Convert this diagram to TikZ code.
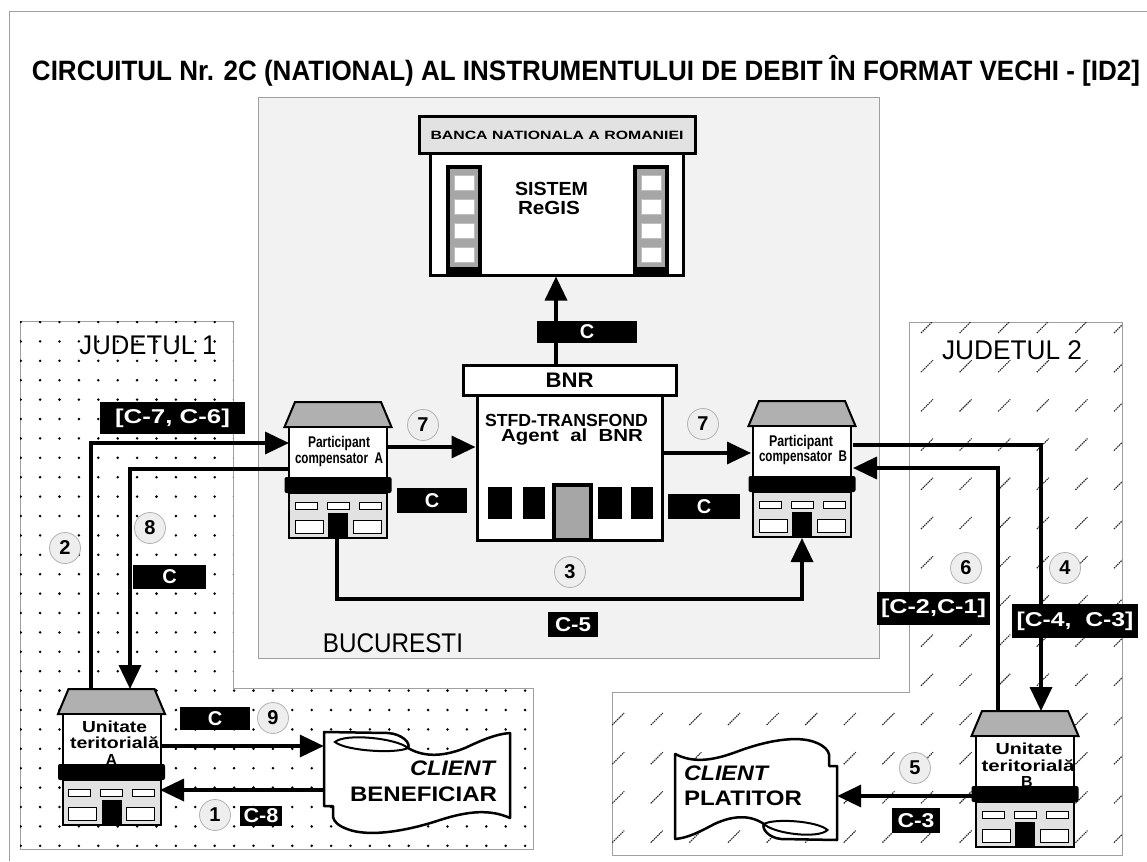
\documentclass[tikz,border=0pt]{standalone}
\usepackage{fontspec}
\setmainfont{Liberation Sans}
\usepackage{graphicx}
\usetikzlibrary{arrows.meta,calc}
\newcommand\fitw[2]{\resizebox{#1pt}{\height}{#2}}
\definecolor{roofgray}{HTML}{B0B0B0}
\definecolor{lowgray}{HTML}{E2E2E2}
\definecolor{regiongray}{HTML}{F2F2F2}
\definecolor{framegray}{HTML}{A0A0A0}
\definecolor{numfill}{HTML}{EEEEEE}
\newcommand\hfont{\bfseries\fontsize{15.5}{15.5}\selectfont}
\newcommand\ufont{\bfseries\fontsize{16}{16}\selectfont}
\newcommand\cfont{\bfseries\fontsize{21}{21}\selectfont}
\newcommand\rfont{\fontsize{27}{27}\selectfont}
\newcommand\drawhouse[4]{%
\begin{scope}[shift={(#2,#3)}]
\node[minimum width=98pt,minimum height=136pt,inner sep=0pt,anchor=north] (#1) at (0,0) {};
\draw[line width=2pt,fill=roofgray,line join=miter] (-43,0) -- (43,0) -- (53.5,25) -- (-53.5,25) -- cycle;
\draw[line width=2pt,fill=white] (-49,25) rectangle (49,76);
\draw[line width=2pt,fill=lowgray] (-49,91) rectangle (49,136);
#4
\fill[rounded corners=2pt] (-53.5,75) rectangle (53.5,91);
\foreach \a in {-43,-11,21} \draw[line width=0.9pt,fill=white] (\a,100) rectangle ++(22,7);
\draw[line width=0.9pt,fill=white] (-43,118) rectangle (-15,131);
\draw[line width=0.9pt,fill=white] (15,118) rectangle (43,131);
\fill (-10,111) rectangle (10,136);
\end{scope}}
\newcommand\scrollpath{(324,732) -- (388,733) .. controls (402,734) and (411,743) .. (408,748) .. controls (425,758) and (445,756) .. (465,748) .. controls (482,740) and (496,734) .. (510,733) -- (510,818) .. controls (490,809) and (468,811) .. (440,820) .. controls (410,830) and (370,838) .. (347,829) .. controls (339,826) and (334,822) .. (333,817) -- (333,806) -- (324,806) -- cycle}
\newcommand\looppath{(335,742) .. controls (345,733) and (396,738) .. (408,748) .. controls (396,754) and (346,751) .. (335,742) -- cycle}
\tikzset{
 conn/.style={line width=3.5pt, line join=miter},
 arr/.style={conn, -{Triangle[length=24pt,width=22pt]}},
 lbl/.style={fill=black, text=white, inner sep=0pt, font=\bfseries\fontsize{20}{20}\selectfont},
 num/.style={circle, draw=gray!60, fill=numfill, line width=0.8pt, minimum size=31pt, inner sep=0pt, font=\bfseries\fontsize{20}{20}\selectfont},
 region/.style={draw=framegray, line width=0.8pt},
 hatch/.style={line width=1.1pt, dash pattern=on 1.5pt off 0.8pt, black!85},
 bld/.style={draw, line width=3pt, inner sep=0pt},
}
\begin{document}
\begin{tikzpicture}[x=1pt,y=-1pt]
\useasboundingbox (0,0) rectangle (1147,861);
% frame
\draw[framegray, line width=1pt] (9,861) -- (9,12) -- (1147,12);
% title
\node (title) at (586,71) {\fitw{1108}{\fontsize{28}{28}\selectfont\bfseries CIRCUITUL Nr. 2C (NATIONAL) AL INSTRUMENTULUI DE DEBIT ÎN FORMAT VECHI - [ID2]}};
% Bucuresti region
\draw[region, fill=regiongray] (258,97) rectangle (879,658);
\node (buc) at (393,643) {\fitw{140}{\rfont BUCURESTI}};
% Judetul 1
\draw[region, fill=white] (20,321) -- (233,321) -- (233,688) -- (533,688) -- (533,849) -- (20,849) -- cycle;
\begin{scope}
\clip (20,321) -- (233,321) -- (233,688) -- (533,688) -- (533,849) -- (20,849) -- cycle;
\foreach \i in {0,...,26} \foreach \j in {0,...,27} \fill (20.7+19.4*\i, 322+19.4*\j) circle (1.4pt);
\end{scope}
\node (j1) at (148,345) {\fitw{137}{\rfont JUDETUL 1}};
% Judetul 2
\draw[region, fill=white] (909,322) -- (1122,322) -- (1122,855) -- (612,855) -- (612,692) -- (909,692) -- cycle;
\begin{scope}
\clip (909,322) -- (1122,322) -- (1122,855) -- (612,855) -- (612,692) -- (909,692) -- cycle;
\foreach \i in {-9,...,5} \foreach \j in {0,...,13} \draw[hatch] ({927+38.6*\i-6},{327+39.2*\j+6}) -- ++(12,-12);
\end{scope}
\node (j2) at (1012,350) {\fitw{140}{\rfont JUDETUL 2}};
% BNR building (top)
\node[bld, fill=white, minimum width=253pt, minimum height=121pt] (bnrbody) at (556.5,214.5) {};
\foreach \cx in {464,651} {
 \fill (\cx-18,165) rectangle (\cx+18,275);
 \fill[gray!70] (\cx-14,169) rectangle (\cx+14,267);
 \foreach \sy in {175,199,223,247} \draw[fill=white, draw=gray!50, line width=0.8pt] (\cx-10,\sy) rectangle (\cx+10,\sy+15);
}
\node[bld, fill=lowgray, minimum width=276pt, minimum height=37pt] (bnrsign) at (557,135.5) {\fitw{253}{\bfseries\fontsize{12}{12}\selectfont BANCA NATIONALA A ROMANIEI}};
\node (sis1) at (551.5,189) {\fitw{73}{\bfseries\fontsize{19}{19}\selectfont SISTEM}};
\node (sis2) at (549,208) {\fitw{62}{\bfseries\fontsize{19}{19}\selectfont ReGIS}};
% STFD building
\node[bld, fill=white, minimum width=185pt, minimum height=145pt] (stfdbody) at (569.5,467.5) {};
\node[bld, fill=white, minimum width=213pt, minimum height=30pt] (stfdsign) at (569.5,380) {\fitw{48}{\bfseries\fontsize{21}{21}\selectfont BNR}};
\node (st1) at (566.5,420) {\fitw{163}{\bfseries\fontsize{17.5}{17.5}\selectfont STFD-TRANSFOND}};
\node (st2) at (572,437) {\fitw{142}{\bfseries\fontsize{17.5}{17.5}\selectfont Agent\ \ al\ \ BNR}};
\fill (488,487) rectangle (512,519);
\fill (523,487) rectangle (545,519);
\fill (598,487) rectangle (622,519);
\fill (631,487) rectangle (653,519);
\fill (552,483) rectangle (593,540);
\fill[gray!70] (556,487) rectangle (589,538);
% client shapes (nodes for connection)
\node[minimum width=186pt, minimum height=100pt, inner sep=0pt] (cb) at (417,782) {};
\node[minimum width=162pt, minimum height=100pt, inner sep=0pt] (cp) at (756,790) {};
% connectors
\draw[arr] (stfdsign.north -| 556,0) -- (bnrbody.south -| 556,0);
\draw[arr] (91,689) -- (91,443) -- (289,443);
\draw[arr] (289,469) -- (130,469) -- (130,689);
\draw[arr] (387,447) -- (stfdbody.west |- 0,447);
\draw[arr] (stfdbody.east |- 0,453) -- (751,453);
\draw[arr] (337,538) -- (337,599) -- (802,599) -- (802,538);
\draw[arr] (853,445) -- (1041,445) -- (1041,711);
\draw[arr] (998,711) -- (998,468) -- (853,468);
\draw[arr] (160,746) -- (cb.west |- 0,746);
\draw[arr] (cb.west |- 0,790) -- (160,790);
\draw[arr] (975,796) -- (cp.east |- 0,796);
% houses
\drawhouse{pa}{338}{402}{\node (pat1) at (1,41) {\fitw{62}{\hfont Participant}}; \node (pat2) at (1,58) {\fitw{88}{\hfont compensator\ \ A}};}
\drawhouse{pb}{802}{401}{\node (pbt1) at (-1,41) {\fitw{64}{\hfont Participant}}; \node (pbt2) at (1,57) {\fitw{88}{\hfont compensator\ \ B}};}
\drawhouse{ua}{111.5}{689}{\node (uat1) at (3,38) {\fitw{65}{\ufont Unitate}}; \node (uat2) at (3,54) {\fitw{89}{\ufont teritorială}}; \node (uat3) at (0,71) {\ufont A};}
\drawhouse{ub}{1025}{711}{\node (ubt1) at (4,38) {\fitw{67}{\ufont Unitate}}; \node (ubt2) at (3,55) {\fitw{93}{\ufont teritorială}}; \node (ubt3) at (2,71) {\ufont B};}
% client beneficiar
\draw[line width=2.5pt, fill=white, line join=round] \scrollpath;
\draw[line width=2pt, fill=white] \looppath;
\node (cbt1) at (452.5,768) {\fitw{85}{\cfont\itshape CLIENT}};
\node (cbt2) at (423.5,794) {\fitw{147}{\cfont BENEFICIAR}};
% client platitor
\begin{scope}[shift={(1118.9,1572)}, xscale=-0.87, yscale=-1]
\draw[line width=2.5pt, fill=white, line join=round] \scrollpath;
\draw[line width=2pt, fill=white] \looppath;
\end{scope}
\node (cpt1) at (726,773) {\fitw{84}{\cfont\itshape CLIENT}};
\node (cpt2) at (743,798) {\fitw{118}{\cfont PLATITOR}};
% labels
\node[lbl, minimum width=100pt, minimum height=22pt] (lc0) at (587,332) {C};
\node[lbl, minimum width=70pt, minimum height=25pt] (lc1) at (432,500.5) {C};
\node[lbl, minimum width=72pt, minimum height=25pt] (lc2) at (704,506.5) {C};
\node[lbl, minimum width=50pt, minimum height=25pt] (lc5) at (573,624.5) {\fitw{36}{C-5}};
\node[lbl, minimum width=145pt, minimum height=32pt] (lc76) at (172.5,418) {\fitw{115}{[C-7, C-6]}};
\node[lbl, minimum width=73pt, minimum height=24pt] (lc8) at (169.5,577) {C};
\node[lbl, minimum width=70pt, minimum height=23pt] (lc9) at (215,718.5) {C};
\node[lbl, minimum width=42pt, minimum height=20pt] (lc88) at (261,816) {\fitw{35}{C-8}};
\node[lbl, minimum width=113pt, minimum height=33pt] (lc21) at (933.5,608.5) {\fitw{105}{[C-2,C-1]}};
\node[lbl, minimum width=126pt, minimum height=34pt] (lc43) at (1075,621) {\fitw{117}{[C-4,\ \ C-3]}};
\node[lbl, minimum width=48pt, minimum height=25pt] (lc3) at (916,820.5) {\fitw{37}{C-3}};
% numbers
\node[num] (n7a) at (423,425) {7};
\node[num] (n7b) at (703,424) {7};
\node[num] (n3) at (570,572) {3};
\node[num] (n2) at (65,548) {2};
\node[num] (n8) at (150,528) {8};
\node[num] (n9) at (273,718) {9};
\node[num] (n1) at (215,815) {1};
\node[num] (n5) at (915,768) {5};
\node[num] (n6) at (966,568) {6};
\node[num] (n4) at (1065,568) {4};
\end{tikzpicture}
\end{document}
